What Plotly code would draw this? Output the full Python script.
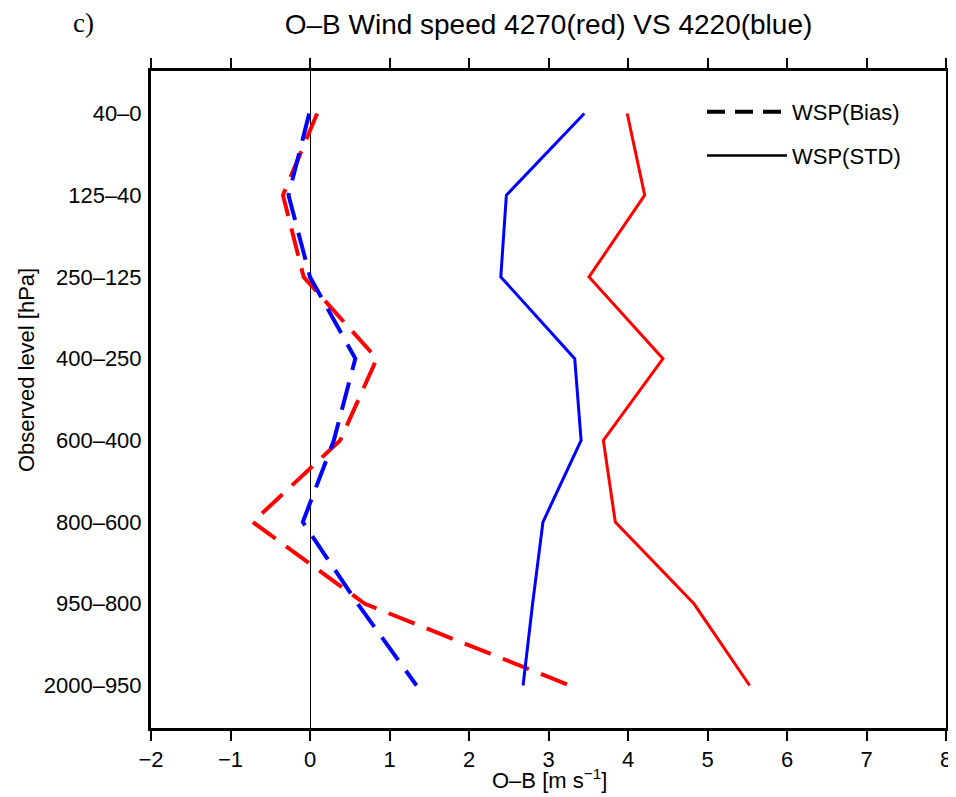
import plotly.graph_objects as go

LEVELS = ['40\u20130', '125\u201340', '250\u2013125', '400\u2013250', '600\u2013400',
          '800\u2013600', '950\u2013800', '2000\u2013950']

# 4270 (red)
RED_BIAS = [0.09, -0.34, -0.08, 0.84, 0.38, -0.72, 0.69, 3.27]
RED_STD = [3.99, 4.21, 3.51, 4.44, 3.69, 3.84, 4.83, 5.53]
# 4220 (blue)
BLUE_BIAS = [-0.01, -0.27, 0.0, 0.57, 0.3, -0.09, 0.6, 1.34]
BLUE_STD = [3.45, 2.47, 2.40, 3.33, 3.41, 2.93, 2.80, 2.68]

FONT = 'Liberation Sans'
DASH = '28px,13px'
# page has an 8px body margin, so the figure is smaller than the window
W, H = 948, 789
M = dict(l=143, r=10, t=63, b=69)
PH = H - M['t'] - M['b']
PW = W - M['l'] - M['r']


def px_x(x):
    return (x - M['l']) / PW


def px_y(y):
    return (H - M['b'] - y) / PH


fig = go.Figure()
for vals, col in [(RED_BIAS, '#ff0000'), (BLUE_BIAS, '#0000ff')]:
    fig.add_trace(go.Scatter(x=vals, y=LEVELS, mode='lines', showlegend=False,
                             line=dict(color=col, width=4, dash=DASH)))
for vals, col in [(RED_STD, '#ff0000'), (BLUE_STD, '#0000ff')]:
    fig.add_trace(go.Scatter(x=vals, y=LEVELS, mode='lines', showlegend=False,
                             line=dict(color=col, width=3)))

# legend entries (black)
fig.add_trace(go.Scatter(x=[None], y=[None], mode='lines', name='WSP(Bias)', legendgroup='a',
                         line=dict(color='black', width=4, dash='18px,10px')))
fig.add_trace(go.Scatter(x=[None], y=[None], mode='lines', name='WSP(STD)', legendgroup='b',
                         line=dict(color='black', width=2.5)))

fig.update_layout(
    width=W, height=H,
    paper_bgcolor='white', plot_bgcolor='white',
    margin=M,
    font=dict(family=FONT, size=22, color='black'),
    title=dict(text='O\u2013B Wind speed 4270(red) VS 4220(blue)', x=0.5, xref='paper',
               y=1 - 16 / H, yanchor='middle', font=dict(size=28)),
    showlegend=True,
    legend=dict(x=px_x(694), y=1 - 20 / PH, xanchor='left', yanchor='top',
                bgcolor='rgba(0,0,0,0)', font=dict(size=22), itemwidth=80,
                tracegroupgap=12, traceorder='grouped'),
    xaxis=dict(range=[-2, 8], dtick=1, showgrid=False, automargin=False,
               ticklabeloverflow='allow',
               showline=True, linecolor='black', linewidth=3, mirror='ticks',
               ticks='outside', ticklen=10, tickwidth=1.5, tickcolor='black',
               zeroline=True, zerolinecolor='black', zerolinewidth=1),
    yaxis=dict(type='category', categoryorder='array', categoryarray=LEVELS,
               range=[7.52, -0.52], showgrid=False, automargin=False,
               showline=True, linecolor='black', linewidth=3, mirror=True,
               ticks='', ticklabelstandoff=2),
)

fig.add_annotation(text='O\u2013B [m s<sup>\u22121</sup>]', xref='paper', yref='paper',
                   x=px_x(541), y=px_y(771), xanchor='center', yanchor='middle',
                   showarrow=False, font=dict(size=22))
fig.add_annotation(text='Observed level [hPa]', textangle=-90, xref='paper', yref='paper',
                   x=px_x(18), y=px_y(362), xanchor='center', yanchor='middle',
                   showarrow=False, font=dict(size=22))
fig.add_annotation(text='c)', xref='paper', yref='paper', x=px_x(75), y=px_y(15),
                   xanchor='center', yanchor='middle', showarrow=False,
                   font=dict(family='Liberation Serif', size=27))

fig.write_html('out.html')
